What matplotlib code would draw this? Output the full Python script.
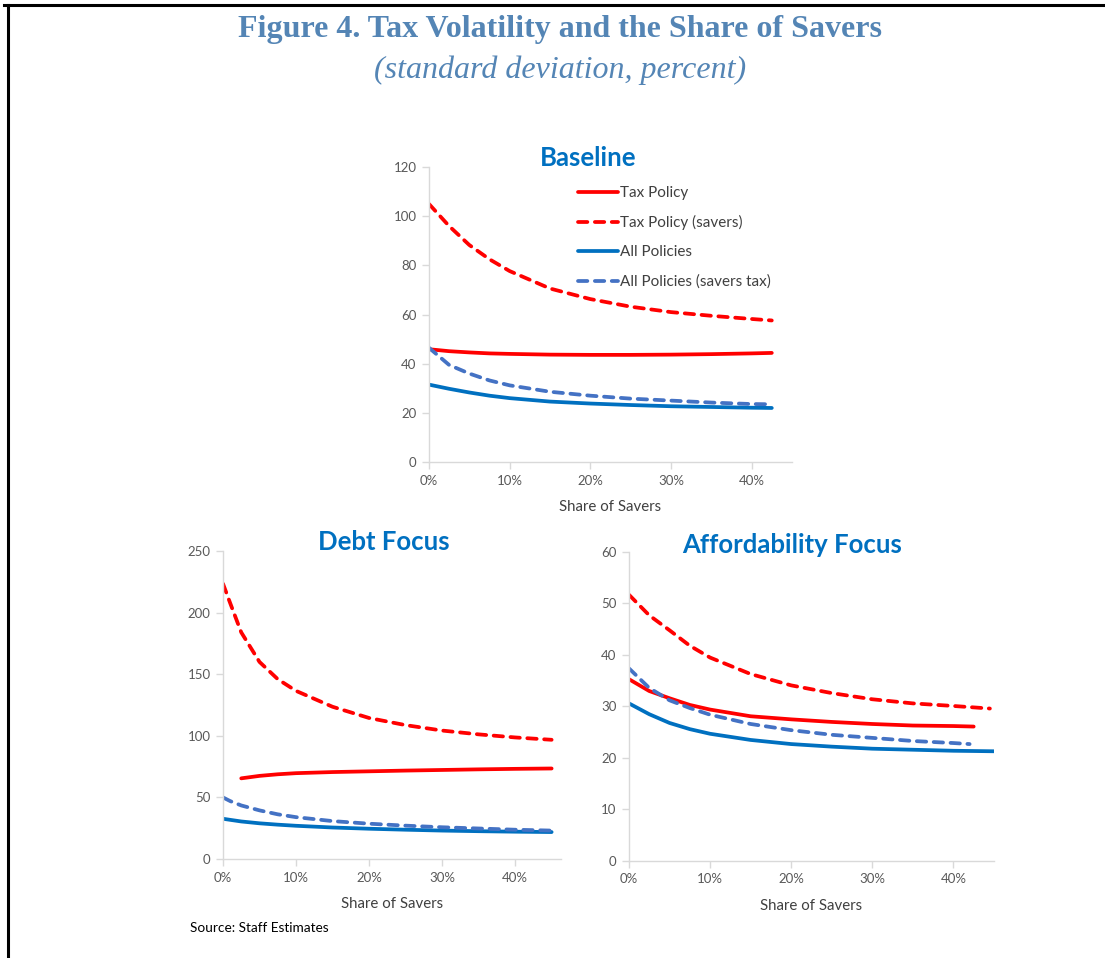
import matplotlib
matplotlib.use("Agg")
import matplotlib.pyplot as plt
from matplotlib.lines import Line2D

# Baseline
base_x = [0, 2.5, 5, 7.5, 10, 15, 20, 25, 30, 35, 40, 42.5]
base_tax = [45.9, 45.1, 44.6, 44.2, 44.0, 43.7, 43.6, 43.6, 43.7, 43.9, 44.2, 44.4]
base_tax_sav = [105, 96.0, 88.3, 82.5, 77.7, 70.6, 66.3, 63.2, 61.0, 59.5, 58.2, 57.6]
base_all = [31.5, 29.8, 28.3, 27.0, 26.0, 24.6, 23.8, 23.2, 22.7, 22.4, 22.1, 22.0]
base_all_sav = [46.5, 39.5, 36.0, 33.2, 31.2, 28.6, 27.0, 25.8, 25.0, 24.2, 23.6, 23.5]

# Debt focus
debt_x = [0, 1, 2.5, 5, 7.5, 10, 15, 20, 25, 30, 35, 40, 45]
debt_tax_x = [2.5, 5, 7.5, 10, 15, 20, 25, 30, 35, 40, 45]
debt_tax = [65.5, 67.5, 68.8, 69.7, 70.6, 71.2, 71.8, 72.3, 72.8, 73.2, 73.5]
debt_tax_sav = [223.5, 207.5, 184, 160, 146, 136.5, 123.6, 114.5, 108.7, 104.3, 101.2, 98.7, 96.8]
debt_all = [32.7, 31.8, 30.5, 29.0, 27.9, 27.0, 25.6, 24.6, 23.8, 23.1, 22.6, 22.2, 21.9]
debt_all_sav = [50, 47, 43.5, 39.5, 36.3, 34, 30.8, 28.7, 27.1, 25.8, 24.8, 23.8, 23.1]

# Affordability focus
aff_x_tax_sav = [0, 2.5, 5, 7.5, 10, 15, 20, 25, 30, 35, 40, 44.5]
aff_tax_sav = [51.7, 47.7, 44.8, 41.8, 39.5, 36.3, 34.1, 32.6, 31.4, 30.6, 30.1, 29.6]
aff_x_tax = [0, 2.5, 5, 7.5, 10, 15, 20, 25, 30, 35, 40, 42.5]
aff_tax = [35.3, 33.0, 31.6, 30.3, 29.4, 28.1, 27.5, 27.0, 26.6, 26.3, 26.2, 26.1]
aff_x_all = [0, 2.5, 5, 7.5, 10, 15, 20, 25, 30, 35, 40, 45]
aff_all = [30.6, 28.5, 26.8, 25.6, 24.7, 23.5, 22.7, 22.2, 21.8, 21.6, 21.4, 21.3]
aff_x_all_sav = [0, 2.5, 5, 7.5, 10, 15, 20, 25, 30, 35, 40, 42]
aff_all_sav = [37.4, 33.6, 31.2, 29.7, 28.4, 26.6, 25.4, 24.5, 23.9, 23.3, 22.9, 22.7]

x_ticks = [0, 10, 20, 30, 40]
x_labels = ["0%", "10%", "20%", "30%", "40%"]
labels = ["Tax Policy", "Tax Policy (savers)", "All Policies", "All Policies (savers tax)"]

RED = "#FF0000"
BLUE = "#0070C0"
BLUE2 = "#4472C4"
TITLE_BLUE = "#0070C0"
HEAD = "#5485B5"
FONT = "Lato"
LW = 2.7
DASH = (0, (2.5, 2.0))

fig = plt.figure(figsize=(11.05, 9.58), dpi=100)


def style_ax(ax, xmax, ymax, ystep, title, tx, ty):
    ax.set_xlim(0, xmax)
    ax.set_ylim(0, ymax)
    ax.set_xticks(x_ticks)
    ax.set_xticklabels(x_labels)
    ax.set_yticks(range(0, ymax + 1, ystep))
    for s in ["top", "right"]:
        ax.spines[s].set_visible(False)
    for s in ["left", "bottom"]:
        ax.spines[s].set_color("#D9D9D9")
        ax.spines[s].set_linewidth(1.0)
    ax.tick_params(colors="#D9D9D9", labelcolor="#595959", length=5, width=1.0,
                   labelsize=9.5, pad=4)
    for t in ax.get_xticklabels() + ax.get_yticklabels():
        t.set_fontfamily(FONT)
    ax.set_xlabel("Share of Savers", fontsize=10.8, color="#404040", family=FONT, labelpad=9.5)
    ax.text(tx, ty, title, transform=ax.transAxes, ha="center", va="center",
            fontsize=18.5, fontweight="bold", color=TITLE_BLUE, family=FONT)
    ax.patch.set_alpha(0)


def draw(ax, xs, ys, color, dashed):
    kw = dict(color=color, lw=LW, solid_capstyle="round", dash_capstyle="round")
    if dashed:
        kw["linestyle"] = DASH
    ax.plot(xs, ys, **kw)


# Baseline panel
ax1 = fig.add_axes([0.3882, 0.5177, 0.3285, 0.3079])
draw(ax1, base_x, base_tax, RED, False)
draw(ax1, base_x, base_tax_sav, RED, True)
draw(ax1, base_x, base_all, BLUE, False)
draw(ax1, base_x, base_all_sav, BLUE2, True)
style_ax(ax1, 45, 120, 20, "Baseline", 0.438, 1.031)
handles = [
    Line2D([], [], color=RED, lw=LW, solid_capstyle="round"),
    Line2D([], [], color=RED, lw=LW, linestyle=DASH, dash_capstyle="round"),
    Line2D([], [], color=BLUE, lw=LW, solid_capstyle="round"),
    Line2D([], [], color=BLUE2, lw=LW, linestyle=DASH, dash_capstyle="round"),
]
leg = ax1.legend(handles, labels, loc="upper left", bbox_to_anchor=(0.395, 0.957),
                 frameon=False, handlelength=2.6, handletextpad=0.15,
                 labelspacing=1.0, borderaxespad=0,
                 prop={"family": FONT, "size": 11})
for t in leg.get_texts():
    t.set_color("#404040")

# Debt focus panel
ax2 = fig.add_axes([0.2018, 0.1033, 0.3060, 0.3215])
draw(ax2, debt_tax_x, debt_tax, RED, False)
draw(ax2, debt_x, debt_tax_sav, RED, True)
draw(ax2, debt_x, debt_all, BLUE, False)
draw(ax2, debt_x, debt_all_sav, BLUE2, True)
style_ax(ax2, 46.3, 250, 50, "Debt Focus", 0.476, 1.029)

# Affordability focus panel
ax3 = fig.add_axes([0.5692, 0.1013, 0.3303, 0.3225])
draw(ax3, aff_x_tax, aff_tax, RED, False)
draw(ax3, aff_x_tax_sav, aff_tax_sav, RED, True)
draw(ax3, aff_x_all, aff_all, BLUE, False)
draw(ax3, aff_x_all_sav, aff_all_sav, BLUE2, True)
style_ax(ax3, 45, 60, 10, "Affordability Focus", 0.447, 1.023)

# headings
fig.text(0.507, 1 - 29 / 958, "Figure 4. Tax Volatility and the Share of Savers",
         ha="center", va="center", fontsize=23, fontweight="bold",
         family="Liberation Serif", color=HEAD)
fig.text(0.507, 1 - 70 / 958, "(standard deviation, percent)",
         ha="center", va="center", fontsize=23, style="italic",
         family="Liberation Serif", color=HEAD)
fig.text(190 / 1105, 1 - 928 / 958, "Source: Staff Estimates", ha="left", va="center",
         fontsize=9.8, family=FONT, color="#000000")

# frame lines at top and left
fig.add_artist(Line2D([4 / 1105, 1.0], [1 - 5 / 958, 1 - 5 / 958], color="black", lw=2.2,
                      transform=fig.transFigure))
fig.add_artist(Line2D([8 / 1105, 8 / 1105], [1 - 5 / 958, 0], color="black", lw=2.2,
                      transform=fig.transFigure))

fig.savefig("out.png", dpi=100)
